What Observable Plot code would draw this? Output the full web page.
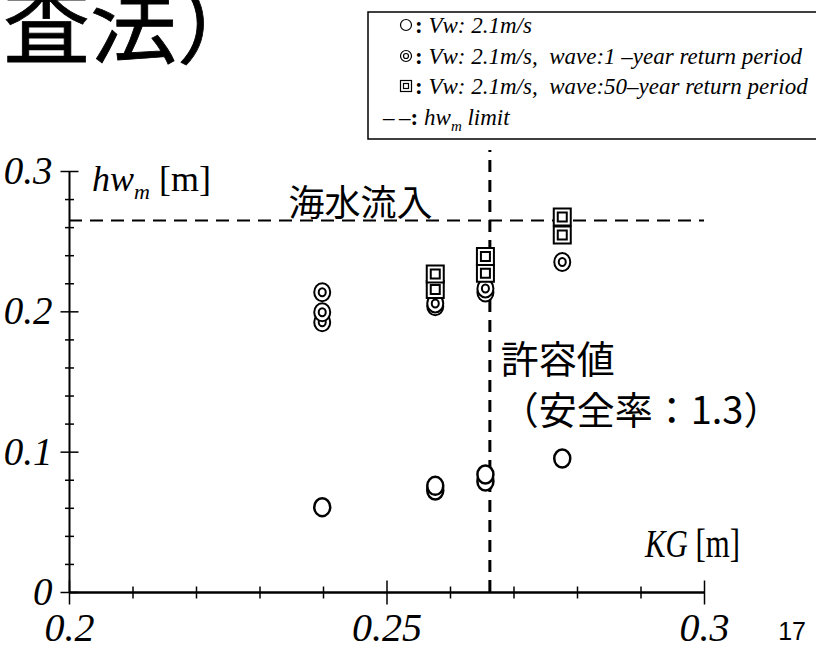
<!DOCTYPE html>
<html>
<head>
<meta charset="utf-8">
<script src="https://cdn.jsdelivr.net/npm/d3@7"></script>
<script src="https://cdn.jsdelivr.net/npm/@observablehq/plot@0.6"></script>
<style>
  html, body { margin: 0; padding: 0; background: #fff; }
  #wrap { width: 816px; height: 650px; position: relative; overflow: hidden; background: #fff; }
  #header, #chart svg { display: block; }
</style>
</head>
<body>
<div id="wrap">
  <svg id="header" width="816" height="140"></svg>
  <div id="chart"></div>
</div>
<script>
// ---------- data ----------
const titleText = "査法）";

// KG [m] and hw_m [m] for each condition
const kgVw    = [0.2398, 0.2576, 0.2576, 0.2655, 0.2655, 0.2776];
const hwVw    = [0.0608, 0.0760, 0.0727, 0.0841, 0.0791, 0.0955];

const kgWave1 = [0.2398, 0.2398, 0.2398, 0.2576, 0.2576, 0.2655, 0.2655, 0.2776];
const hwWave1 = [0.2140, 0.1997, 0.1926, 0.2060, 0.2040, 0.2167, 0.2138, 0.2355];

const kgWave50 = [0.2576, 0.2576, 0.2655, 0.2655, 0.2776, 0.2776];
const hwWave50 = [0.2270, 0.2160, 0.2395, 0.2275, 0.2676, 0.2548];

const hwLimit = 0.265;      // 海水流入 limit
const kgLimit = 0.2662;     // 許容値 (安全率 1.3)
const kgLimitTop = 0.315;

const xMajor = [0.2, 0.25, 0.3];
const xTickLabels = ["0.2", "0.25", "0.3"];
const xMinor = [0.21, 0.22, 0.23, 0.24, 0.26, 0.27, 0.28, 0.29];
const yMajor = [0, 0.1, 0.2, 0.3];
const yTickLabels = ["0", "0.1", "0.2", "0.3"];
const yMinor = [0.02, 0.04, 0.06, 0.08, 0.12, 0.14, 0.16, 0.18, 0.22, 0.24, 0.26, 0.28];

const legendLabels = [
  "Vw: 2.1m/s",
  "Vw: 2.1m/s,  wave:1 \u2013year return period",
  "Vw: 2.1m/s,  wave:50\u2013year return period"
];
const notes = [
  {text: "海水流入", kg: 0.2345, hw: 0.2762, size: 36},
  {text: "許容値", kg: 0.2679, hw: 0.1650, size: 38},
  {text: "（安全率：1.3）", kg: 0.2679, hw: 0.1285, size: 38}
];
const pageNumber = "17";

// ---------- helpers ----------
const SERIF = "'Liberation Serif','Times New Roman',serif";
const CJK = "'Noto Sans CJK JP','Noto Sans',sans-serif";

function ellipse(ctx, rx, ry) {
  const k = 0.5523;
  ctx.moveTo(rx, 0);
  ctx.bezierCurveTo(rx, ry * k, rx * k, ry, 0, ry);
  ctx.bezierCurveTo(-rx * k, ry, -rx, ry * k, -rx, 0);
  ctx.bezierCurveTo(-rx, -ry * k, -rx * k, -ry, 0, -ry);
  ctx.bezierCurveTo(rx * k, -ry, rx, -ry * k, rx, 0);
  ctx.closePath();
}
const circleSym = {draw(ctx) { ellipse(ctx, 8, 9); }};
const doubleCircleSym = {draw(ctx) { ellipse(ctx, 8, 9); ellipse(ctx, 3.5, 4); }};
const doubleSquareSym = {draw(ctx) { ctx.rect(-8.5, -8.5, 17, 17); ctx.rect(-4.5, -4.5, 9, 9); }};
const vTick = (h) => ({draw(ctx) { ctx.moveTo(0, -h); ctx.lineTo(0, h); }});
const hTick = (w) => ({draw(ctx) { ctx.moveTo(-w, 0); ctx.lineTo(w, 0); }});

function rows(kg, hw) {
  return kg.map((k, i) => ({kg: k, hw: hw[i]})).sort((a, b) => a.hw - b.hw);
}

// ---------- header (title + legend) ----------
const header = d3.select("#header");
header.append("text")
  .attr("x", 3).attr("y", 57)
  .attr("font-family", CJK).attr("font-size", 87)
  .attr("stroke", "black").attr("stroke-width", 0.8)
  .text(titleText);

header.append("rect")
  .attr("x", 368).attr("y", 12).attr("width", 470).attr("height", 127)
  .attr("fill", "white").attr("stroke", "black").attr("stroke-width", 1.5);

const legY = [25, 56, 86, 117];
// symbols
header.append("circle").attr("cx", 406).attr("cy", legY[0]).attr("r", 5.5)
  .attr("fill", "none").attr("stroke", "black").attr("stroke-width", 1.2);
header.append("circle").attr("cx", 406).attr("cy", legY[1]).attr("r", 5.5)
  .attr("fill", "none").attr("stroke", "black").attr("stroke-width", 1.2);
header.append("circle").attr("cx", 406).attr("cy", legY[1]).attr("r", 2.5)
  .attr("fill", "none").attr("stroke", "black").attr("stroke-width", 1.2);
header.append("rect").attr("x", 400.5).attr("y", legY[2] - 5.5).attr("width", 11).attr("height", 11)
  .attr("fill", "none").attr("stroke", "black").attr("stroke-width", 1.2);
header.append("rect").attr("x", 403.5).attr("y", legY[2] - 2.5).attr("width", 5).attr("height", 5)
  .attr("fill", "none").attr("stroke", "black").attr("stroke-width", 1.2);

legendLabels.forEach((lab, i) => {
  const t = header.append("text")
    .attr("x", 415).attr("y", legY[i] + 8)
    .attr("font-family", SERIF).attr("font-size", 23)
    .style("white-space", "pre");
  t.append("tspan").attr("font-weight", "bold").text(": ");
  t.append("tspan").attr("font-style", "italic").text(lab);
});
{
  const t = header.append("text")
    .attr("x", 383).attr("y", legY[3] + 8)
    .attr("font-family", SERIF).attr("font-size", 23)
    .style("white-space", "pre");
  t.append("tspan").text("\u2013\u2009\u2013");
  t.append("tspan").attr("font-weight", "bold").text(": ");
  t.append("tspan").attr("font-style", "italic").text("hw");
  t.append("tspan").attr("font-style", "italic").attr("font-size", 15).attr("dy", 6).text("m");
  t.append("tspan").attr("font-style", "italic").attr("dy", -6).text(" limit");
}

// ---------- plot ----------
const chart = Plot.plot({
  width: 816,
  height: 510,
  marginLeft: 69,
  marginRight: 112,
  marginTop: 31,
  marginBottom: 58,
  x: {domain: [0.2, 0.3], axis: null},
  y: {domain: [0, 0.3], axis: null},
  style: {background: "white", overflow: "visible"},
  marks: [
    // limit lines
    Plot.ruleY([hwLimit], {x1: 0.2, x2: 0.3, stroke: "black", strokeWidth: 2, strokeDasharray: "13,8"}),
    Plot.ruleX([kgLimit], {y1: 0, y2: kgLimitTop, stroke: "black", strokeWidth: 3, strokeDasharray: "12,8"}),
    // axis lines
    Plot.ruleY([0], {x1: 0.2, x2: 0.3, stroke: "black", strokeWidth: 2.5}),
    Plot.ruleX([0.2], {y1: 0, y2: 0.3, stroke: "black", strokeWidth: 2}),
    // ticks
    Plot.dot(xMinor, {x: d => d, y: 0, symbol: vTick(6), r: 1, fill: "none", stroke: "black", strokeWidth: 1.5}),
    Plot.dot(xMajor, {x: d => d, y: 0, symbol: vTick(12), r: 1, fill: "none", stroke: "black", strokeWidth: 1.5}),
    Plot.dot(yMinor, {x: 0.2, y: d => d, symbol: hTick(4.5), r: 1, fill: "none", stroke: "black", strokeWidth: 1.5}),
    Plot.dot(yMajor, {x: 0.2, y: d => d, symbol: hTick(9), r: 1, fill: "none", stroke: "black", strokeWidth: 1.5}),
    // tick labels
    Plot.text(xMajor, {x: d => d, y: 0, text: (d, i) => xTickLabels[i], dy: 36,
      fontSize: 40, fontStyle: "italic", fontFamily: SERIF, fill: "black", ariaLabel: "serif-labels"}),
    Plot.text(yMajor, {x: 0.2, y: d => d, text: (d, i) => yTickLabels[i], dx: -17, textAnchor: "end",
      fontSize: 39, fontStyle: "italic", fontFamily: SERIF, fill: "black", ariaLabel: "serif-labels"}),
    // data markers
    Plot.dot(rows(kgVw, hwVw), {x: "kg", y: "hw", symbol: circleSym, r: 1, fill: "white", stroke: "black", strokeWidth: 2.5}),
    Plot.dot(rows(kgWave1, hwWave1), {x: "kg", y: "hw", symbol: doubleCircleSym, r: 1, fill: "white", stroke: "black", strokeWidth: 2}),
    Plot.dot(rows(kgWave50, hwWave50), {x: "kg", y: "hw", symbol: doubleSquareSym, r: 1, fill: "white", stroke: "black", strokeWidth: 2}),
    // annotations
    Plot.text(notes, {x: "kg", y: "hw", text: "text", textAnchor: "start",
      fontSize: d => d.size, fontFamily: CJK, fill: "black"})
  ]
});
document.getElementById("chart").appendChild(chart);

const svg = d3.select(chart);
// slight vertical stretch of the serif tick labels, as in the reference
svg.selectAll("g[aria-label='serif-labels'] text").each(function () {
  const tr = this.getAttribute("transform");
  if (tr) {
    this.setAttribute("transform", tr + " scale(1,1.12)");
  } else {
    const x = +this.getAttribute("x") || 0, y = +this.getAttribute("y") || 0;
    this.removeAttribute("x"); this.removeAttribute("y");
    this.setAttribute("transform", `translate(${x},${y}) scale(1,1.12)`);
  }
});

// axis titles with sub/upright parts, positioned through the plot's scales
const sx = chart.scale("x"), sy = chart.scale("y");
{
  const t = svg.append("text")
    .attr("x", sx.apply(0.2) + 23).attr("y", sy.apply(0.3) + 20)
    .attr("text-anchor", "start")
    .attr("font-family", SERIF).attr("font-size", 36).style("white-space", "pre");
  t.append("tspan").attr("font-style", "italic").text("hw");
  t.append("tspan").attr("font-style", "italic").attr("font-size", 22).attr("dy", 8).text("m");
  t.append("tspan").attr("dy", -8).text(" [m]");
}
{
  const kx = sx.apply(0.3) + 36, ky = sy.apply(0) - 35;
  const t = svg.append("text")
    .attr("transform", `translate(${kx},${ky}) scale(0.88,1.12)`)
    .attr("text-anchor", "end")
    .attr("font-family", SERIF).attr("font-size", 35).style("white-space", "pre");
  t.append("tspan").attr("font-style", "italic").text("KG");
  t.append("tspan").text(" [m]");
}
svg.append("text")
  .attr("x", 806).attr("y", 500).attr("text-anchor", "end")
  .attr("font-family", "'Liberation Sans',Arial,sans-serif").attr("font-size", 25)
  .text(pageNumber);
</script>
</body>
</html>
